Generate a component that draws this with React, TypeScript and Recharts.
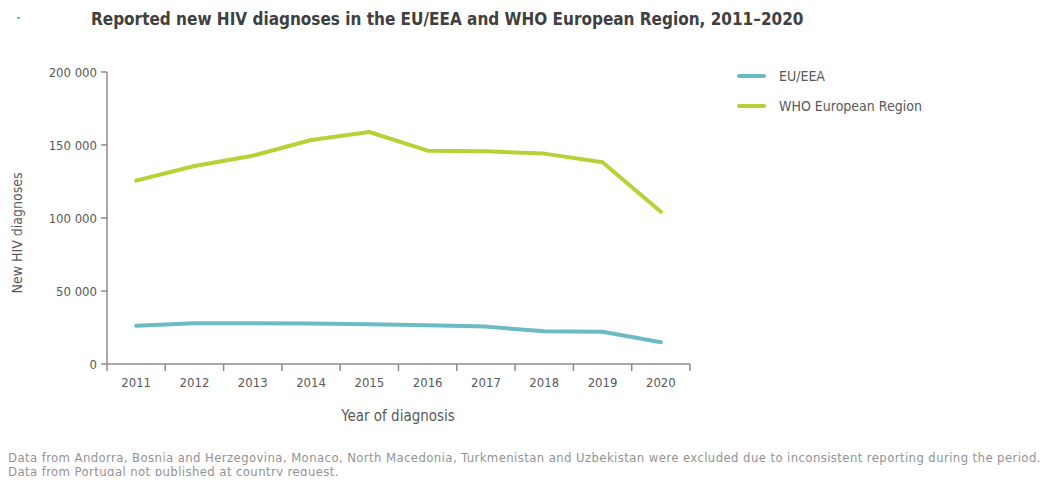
import { CartesianGrid, Legend, Line, LineChart, XAxis, YAxis } from "recharts";

const years = ["2011", "2012", "2013", "2014", "2015", "2016", "2017", "2018", "2019", "2020"];
const euEea = [26200, 27900, 27900, 27700, 27200, 26500, 25600, 22400, 22100, 14900];
const whoEurope = [125600, 135600, 142700, 153400, 158900, 146100, 145700, 144100, 138200, 104300];
const yTicks = [0, 50000, 100000, 150000, 200000];

const rows = years.map((year, i) => ({ year, eu: euEea[i], who: whoEurope[i] }));

const FONT = '"DejaVu Sans Condensed", "Liberation Sans Narrow", sans-serif';
const AXIS = "#8c8c8c";
const TEXT = "#595959";
const BLUE = "#6bbcc2";
const GREEN = "#b5d336";

const fmt = (v: number) => String(v).replace(/\B(?=(\d{3})+(?!\d))/g, " ");

/** Year label at band centre, tick mark at the band's right edge (plus left edge for the first). */
function YearTick(props: any) {
  const { x, y, payload, index } = props;
  const half = payload.offset ?? 0;
  return (
    <g>
      <line x1={x + half} x2={x + half} y1={y} y2={y + 7} stroke={AXIS} strokeWidth={1.5} />
      {index === 0 && <line x1={x - half} x2={x - half} y1={y} y2={y + 7} stroke={AXIS} strokeWidth={1.5} />}
      <text x={x} y={y + 23} textAnchor="middle" fill={TEXT} fontSize={13} fontFamily={FONT}>
        {payload.value}
      </text>
    </g>
  );
}

function LegendBox() {
  const items = [
    { label: "EU/EEA", color: BLUE },
    { label: "WHO European Region", color: GREEN },
  ];
  return (
    <div style={{ fontFamily: FONT, fontSize: 14, color: TEXT }}>
      {items.map((it) => (
        <div key={it.label} style={{ display: "flex", alignItems: "center", height: 30 }}>
          <span style={{ display: "inline-block", width: 29, height: 4, borderRadius: 2, background: it.color, marginRight: 13 }} />
          {it.label}
        </div>
      ))}
    </div>
  );
}

export default function App() {
  return (
    <div style={{ position: "relative", width: 1048, height: 484, margin: -8, background: "#fff", fontFamily: FONT, overflow: "hidden" }}>
      <span style={{ position: "absolute", left: 17, top: 17, width: 3, height: 2, background: BLUE }} />
      <div style={{ position: "absolute", left: 91, top: 9, fontSize: 17, fontWeight: 700, color: "#404040", whiteSpace: "nowrap" }}>
        Reported new HIV diagnoses in the EU/EEA and WHO European Region, 2011–2020
      </div>
      <LineChart width={1048} height={484} data={rows} margin={{ top: 72, right: 358, bottom: 90, left: 47 }}>
        <CartesianGrid stroke="none" />
        <XAxis
          dataKey="year"
          scale="band"
          stroke={AXIS}
          strokeWidth={1.5}
          tickLine={false}
          tickSize={0}
          tickMargin={0}
          height={30}
          interval={0}
          tick={<YearTick />}
        />
        <YAxis
          domain={[0, 200000]}
          ticks={yTicks}
          tickFormatter={fmt}
          width={60}
          stroke={AXIS}
          strokeWidth={1.5}
          tickSize={6}
          tickMargin={4}
          tick={{ fill: TEXT, fontSize: 13, fontFamily: FONT }}
        />
        <Legend
          layout="horizontal"
          verticalAlign="middle"
          align="center"
          wrapperStyle={{ position: "absolute", left: 737, top: 61, width: 260 }}
          content={<LegendBox />}
        />
        <Line dataKey="eu" name="EU/EEA" stroke={BLUE} strokeWidth={4} dot={false} strokeLinejoin="round" strokeLinecap="round" isAnimationActive={false} />
        <Line dataKey="who" name="WHO European Region" stroke={GREEN} strokeWidth={4} dot={false} strokeLinejoin="round" strokeLinecap="round" isAnimationActive={false} />
      </LineChart>
      <div style={{ position: "absolute", left: 9, top: 233, transform: "translate(-50%, -50%) rotate(-90deg)", fontSize: 14, color: TEXT, whiteSpace: "nowrap", marginLeft: 8 }}>
        New HIV diagnoses
      </div>
      <div style={{ position: "absolute", left: 398, top: 407, transform: "translateX(-50%)", fontSize: 15, color: TEXT, whiteSpace: "nowrap" }}>
        Year of diagnosis
      </div>
      <div style={{ position: "absolute", left: 8, top: 451, fontSize: 13, lineHeight: "14px", letterSpacing: 0.4, color: "#939393", whiteSpace: "nowrap" }}>
        Data from Andorra, Bosnia and Herzegovina, Monaco, North Macedonia, Turkmenistan and Uzbekistan were excluded due to inconsistent reporting during the period.
        <br />
        Data from Portugal not published at country request.
      </div>
    </div>
  );
}
